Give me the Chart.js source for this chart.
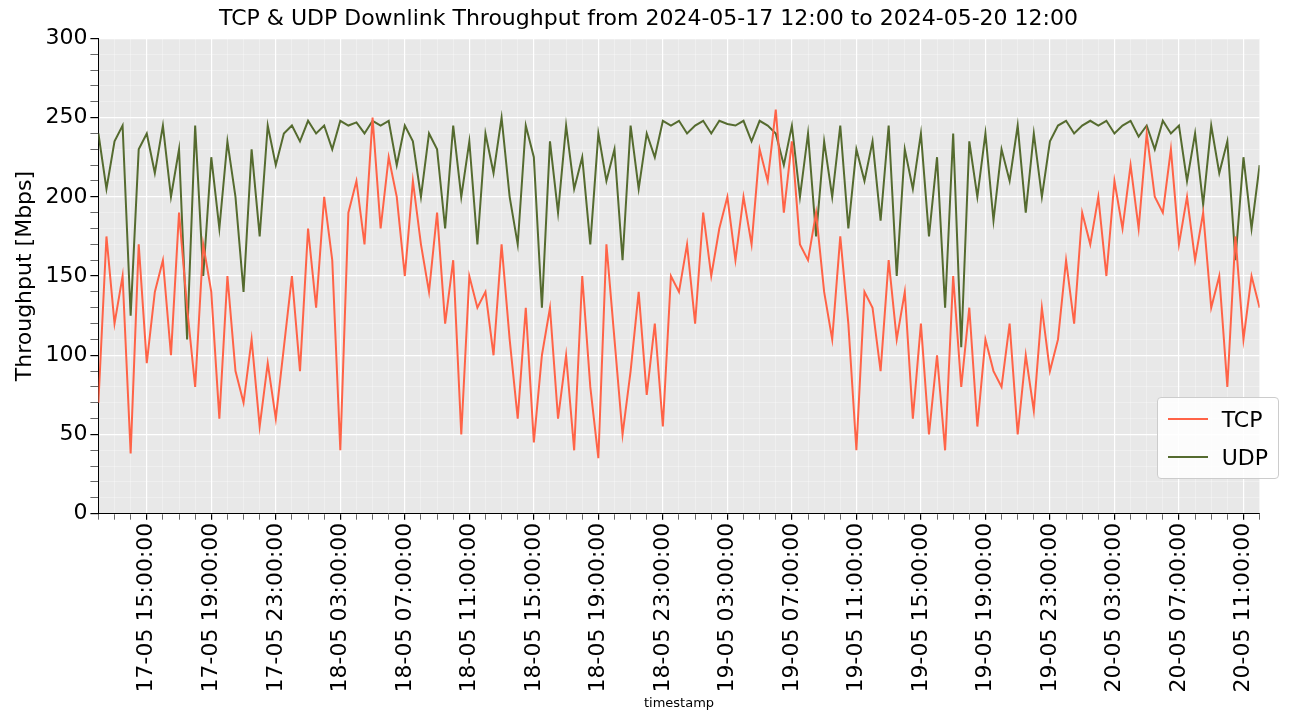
<!DOCTYPE html>
<html>
<head>
<meta charset="utf-8">
<script src="https://cdn.jsdelivr.net/npm/chart.js@4"></script>
<style>
  body { margin: 0; background: #fff; font-family: "DejaVu Sans", sans-serif; }
  #wrap { position: relative; width: 1289px; height: 713px; }
  #legend { position: absolute; right: 10px; top: 397px; background: rgba(255,255,255,0.85); border: 1px solid #ccc; border-radius: 4px; padding: 2px 10px; font-size: 22px; }
  #legend div { display: flex; align-items: center; height: 38px; }
  #legend span.l { display: inline-block; width: 40px; height: 2px; margin-right: 14px; }
</style>
</head>
<body>
<div id="wrap">
  <canvas id="c" width="1289" height="713"></canvas>
  <div id="legend">
    <div><span class="l" style="background:#ff6347"></span>TCP</div>
    <div><span class="l" style="background:#556b2f"></span>UDP</div>
  </div>
</div>
<script>
Chart.defaults.font.family = '"DejaVu Sans", sans-serif';

// hours since 2024-05-17 12:00, one sample per 30 min
const hours = [];
for (let i = 0; i <= 144; i++) hours.push(i / 2);

const tcpValues = [
  70,175,120,150,38,170,95,140,
  160,100,190,130,80,170,140,60,
  150,90,70,110,55,95,60,105,
  150,90,180,130,200,160,40,190,
  210,170,250,180,225,200,150,210,
  170,140,190,120,160,50,150,130,
  140,100,170,110,60,130,45,100,
  130,60,100,40,150,80,35,170,
  110,50,90,140,75,120,55,150,
  140,170,120,190,150,180,200,160,
  200,170,230,210,255,190,235,170,
  160,190,140,110,175,120,40,140,
  130,90,160,110,140,60,120,50,
  100,40,150,80,130,55,110,90,
  80,120,50,100,65,130,90,110,
  160,120,190,170,200,150,210,180,
  220,180,240,200,190,230,170,200,
  160,190,130,150,80,175,110,150,
  130
];

const udpValues = [
  240,205,235,245,125,230,240,215,
  245,200,230,110,245,150,225,180,
  235,200,140,230,175,245,220,240,
  245,235,248,240,245,230,248,245,
  247,240,248,245,248,220,245,235,
  200,240,230,180,245,200,235,170,
  240,215,250,200,170,245,225,130,
  235,190,245,205,225,170,240,210,
  230,160,245,205,240,225,248,245,
  248,240,245,248,240,248,246,245,
  248,235,248,245,240,220,245,200,
  240,175,235,200,245,180,230,210,
  235,185,245,150,230,205,240,175,
  225,130,240,105,235,200,240,185,
  230,210,245,190,240,200,235,245,
  248,240,245,248,245,248,240,245,
  248,238,245,230,248,240,245,210,
  240,195,245,215,235,160,225,180,
  220
];

const tickLabels = ['17-05 15:00:00','17-05 19:00:00','17-05 23:00:00','18-05 03:00:00','18-05 07:00:00','18-05 11:00:00',
  '18-05 15:00:00','18-05 19:00:00','18-05 23:00:00','19-05 03:00:00','19-05 07:00:00','19-05 11:00:00',
  '19-05 15:00:00','19-05 19:00:00','19-05 23:00:00','20-05 03:00:00','20-05 07:00:00','20-05 11:00:00'];

// grey plot background
const bgPlugin = {
  id: 'bg',
  beforeDraw(chart) {
    const a = chart.chartArea, ctx = chart.ctx;
    ctx.save();
    ctx.fillStyle = '#e8e8e8';
    ctx.fillRect(a.left, a.top, a.right - a.left, a.bottom - a.top);
    ctx.restore();
  }
};

const toPts = vals => vals.map((v, i) => ({ x: hours[i], y: v }));

new Chart(document.getElementById('c'), {
  type: 'line',
  data: {
    datasets: [
      { label: 'TCP', data: toPts(tcpValues), borderColor: '#ff6347', borderWidth: 2, pointRadius: 0, tension: 0 },
      { label: 'UDP', data: toPts(udpValues), borderColor: '#556b2f', borderWidth: 2, pointRadius: 0, tension: 0 }
    ]
  },
  options: {
    responsive: false,
    animation: false,
    layout: { padding: { left: 8, right: 0, top: 0, bottom: 2 } },
    plugins: {
      legend: { display: false },
      tooltip: { enabled: false },
      title: { display: true, text: 'TCP & UDP Downlink Throughput from 2024-05-17 12:00 to 2024-05-20 12:00',
               color: '#000', font: { size: 22, weight: 'normal' }, padding: { top: 6, bottom: 6 } }
    },
    scales: {
      x: {
        type: 'linear', min: 0, max: 72,
        afterBuildTicks(axis) {
          const t = [];
          for (let h = 0; h <= 72; h++) t.push({ value: h });
          axis.ticks = t;
        },
        grid: {
          color: ctx => (ctx.tick && (ctx.tick.value - 3) % 4 === 0) ? '#ffffff' : 'rgba(255,255,255,0.55)',
          lineWidth: ctx => (ctx.tick && (ctx.tick.value - 3) % 4 === 0) ? 1.2 : 0.6,
          tickLength: 6, tickColor: '#000', drawOnChartArea: true
        },
        border: { color: '#000' },
        ticks: {
          autoSkip: false, maxRotation: 90, minRotation: 90, color: '#000', font: { size: 22 },
          callback: v => ((v - 3) % 4 === 0 && v >= 3) ? tickLabels[(v - 3) / 4] : ''
        },
        title: { display: true, text: 'timestamp', color: '#000', font: { size: 13 }, padding: 0 }
      },
      y: {
        min: 0, max: 300,
        afterBuildTicks(axis) {
          const t = [];
          for (let v = 0; v <= 300; v += 10) t.push({ value: v });
          axis.ticks = t;
        },
        grid: {
          color: ctx => (ctx.tick && ctx.tick.value % 50 === 0) ? '#ffffff' : 'rgba(255,255,255,0.55)',
          lineWidth: ctx => (ctx.tick && ctx.tick.value % 50 === 0) ? 1.2 : 0.6,
          tickColor: '#000'
        },
        border: { color: '#000' },
        ticks: { autoSkip: false, color: '#000', font: { size: 22 }, callback: v => v % 50 === 0 ? v : '' },
        title: { display: true, text: 'Throughput [Mbps]', color: '#000', font: { size: 22 } }
      }
    }
  },
  plugins: [bgPlugin]
});
</script>
</body>
</html>
